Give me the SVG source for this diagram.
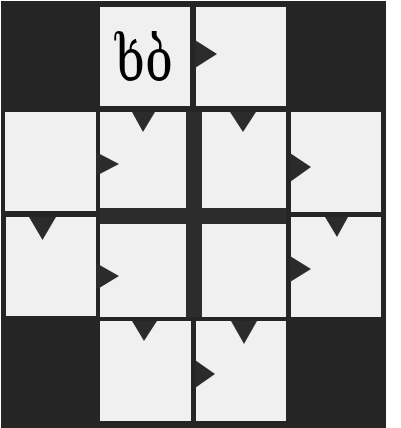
<svg xmlns="http://www.w3.org/2000/svg" width="401" height="428" viewBox="0 0 401 428">
<style>
.cell{fill:#f0f0f0}
.arr{fill:#2b2b2b}
.lbl{font-family:"DejaVu Serif",serif;font-size:60px;fill:#000;text-anchor:middle}
</style>
<rect width="401" height="428" fill="#ffffff"/>
<rect x="1" y="1" width="385" height="427" fill="#252525"/>
<rect x="186" y="112" width="16" height="205" fill="#2c2c2c"/>
<rect x="100" y="208" width="186" height="16" fill="#2c2c2c"/>
<g id="r0c1"><rect class="cell" x="100" y="7" width="90" height="99"/><text class="lbl" x="144" y="81" textLength="58" lengthAdjust="spacingAndGlyphs">ხბ</text></g>
<g id="r0c2"><rect class="cell" x="196" y="7" width="90" height="99"/></g>
<g id="r1c0"><rect class="cell" x="5" y="112" width="91" height="99"/></g>
<g id="r1c1"><rect class="cell" x="100" y="112" width="86" height="96"/></g>
<g id="r1c2"><rect class="cell" x="202" y="112" width="84" height="96"/></g>
<g id="r1c3"><rect class="cell" x="291" y="112" width="90" height="100"/></g>
<g id="r2c0"><rect class="cell" x="6" y="217" width="90" height="99"/></g>
<g id="r2c1"><rect class="cell" x="100" y="224" width="86" height="93"/></g>
<g id="r2c2"><rect class="cell" x="202" y="224" width="84" height="93"/></g>
<g id="r2c3"><rect class="cell" x="291" y="217" width="90" height="100"/></g>
<g id="r3c1"><rect class="cell" x="100" y="321" width="91" height="100"/></g>
<g id="r3c2"><rect class="cell" x="196" y="321" width="90" height="100"/></g>
<g id="connectors">
<polygon class="arr" points="195,40 217,54 195,68"/>
<polygon class="arr" points="132,112 155,112 143,132"/>
<polygon class="arr" points="96,152 119,164 96,176"/>
<polygon class="arr" points="230,112 256,112 243,132"/>
<polygon class="arr" points="290,153 311,167 290,182"/>
<polygon class="arr" points="29,217 56,217 42.5,240"/>
<polygon class="arr" points="96,263 119,276 96,290"/>
<polygon class="arr" points="325,217 348,217 337,237"/>
<polygon class="arr" points="290,256 311,269 290,282"/>
<polygon class="arr" points="132,321 157,321 144,341"/>
<polygon class="arr" points="231,321 257,321 244,344"/>
<polygon class="arr" points="195,360 215,374 195,388"/>
</g>
</svg>
